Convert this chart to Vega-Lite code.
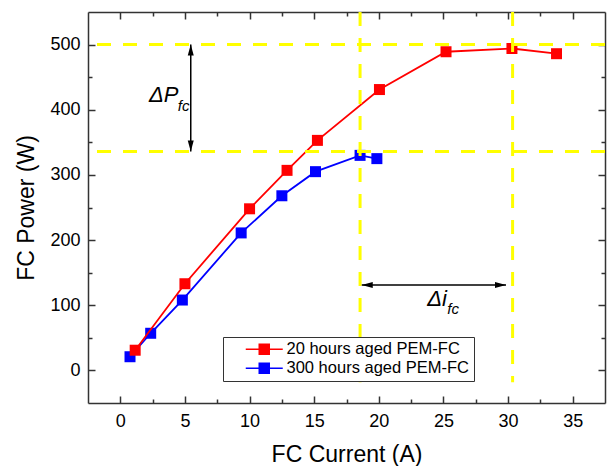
{
  "$schema": "https://vega.github.io/schema/vega-lite/v6.json",
  "width": 517,
  "height": 391,
  "autosize": {"type": "none"},
  "padding": {"left": 88, "top": 12, "right": 4, "bottom": 63},
  "background": "white",
  "config": {
    "view": {"stroke": null},
    "font": "Liberation Sans",
    "axis": {
      "grid": false,
      "domainColor": "#333333",
      "domainWidth": 1.5,
      "tickColor": "#333333",
      "tickWidth": 1.5,
      "labelFont": "Liberation Sans",
      "labelFontSize": 18,
      "labelColor": "#000000",
      "titleFont": "Liberation Sans",
      "titleFontSize": 23,
      "titleFontWeight": "normal",
      "titleColor": "#000000",
      "labelOverlap": false
    },
    "legend": {
      "orient": "none",
      "legendX": 135,
      "legendY": 325,
      "title": null,
      "padding": 4,
      "strokeColor": "#333333",
      "fillColor": "white",
      "labelFont": "Liberation Sans",
      "labelFontSize": 16.5,
      "labelColor": "#000000",
      "labelLimit": 400,
      "symbolType": "M-3.7,0H3.7M-1,-1H1V1H-1Z",
      "symbolSize": 100,
      "symbolStrokeWidth": 1.5,
      "symbolOffset": 29,
      "labelOffset": 14,
      "rowPadding": 2
    }
  },
  "datasets": {
    "series": [
      {"s": "20 hours aged PEM-FC", "x": 1.15, "y": 31},
      {"s": "20 hours aged PEM-FC", "x": 5.0, "y": 133},
      {"s": "20 hours aged PEM-FC", "x": 10.0, "y": 248},
      {"s": "20 hours aged PEM-FC", "x": 12.9, "y": 307},
      {"s": "20 hours aged PEM-FC", "x": 15.25, "y": 353},
      {"s": "20 hours aged PEM-FC", "x": 20.05, "y": 431},
      {"s": "20 hours aged PEM-FC", "x": 25.2, "y": 489},
      {"s": "20 hours aged PEM-FC", "x": 30.3, "y": 494},
      {"s": "20 hours aged PEM-FC", "x": 33.75, "y": 486},
      {"s": "300 hours aged PEM-FC", "x": 0.75, "y": 21},
      {"s": "300 hours aged PEM-FC", "x": 2.35, "y": 57},
      {"s": "300 hours aged PEM-FC", "x": 4.8, "y": 108},
      {"s": "300 hours aged PEM-FC", "x": 9.35, "y": 211},
      {"s": "300 hours aged PEM-FC", "x": 12.5, "y": 268},
      {"s": "300 hours aged PEM-FC", "x": 15.1, "y": 305},
      {"s": "300 hours aged PEM-FC", "x": 18.55, "y": 330},
      {"s": "300 hours aged PEM-FC", "x": 19.85, "y": 325}
    ],
    "hlines": [{"y": 500}, {"y": 336}],
    "vlines": [{"x": 18.55}, {"x": 30.35}],
    "arrows": [
      {"x": 5.45, "y": 336, "x2": 5.45, "y2": 500},
      {"x": 18.68, "y": 131, "x2": 29.84, "y2": 131}
    ],
    "heads": [
      {"x": 5.45, "y": 500, "dir": "up"},
      {"x": 5.45, "y": 336, "dir": "down"},
      {"x": 18.68, "y": 131, "dir": "left"},
      {"x": 29.84, "y": 131, "dir": "right"}
    ],
    "mainText": [
      {"x": 3.35, "y": 422, "t": "ΔP"},
      {"x": 24.5, "y": 110, "t": "Δi"}
    ],
    "subText": [
      {"x": 4.9, "y": 405, "t": "fc"},
      {"x": 25.75, "y": 95, "t": "fc"}
    ]
  },
  "resolve": {"axis": {"x": "independent", "y": "independent"}},
  "layer": [
    {
      "data": {"name": "series"},
      "transform": [{"filter": "datum.s === '300 hours aged PEM-FC'"}],
      "mark": {"type": "line", "strokeWidth": 1.8},
      "encoding": {
        "x": {"field": "x", "type": "quantitative", "scale": {"domain": [-2.5, 37.5], "nice": false, "zero": false},
          "axis": {"orient": "bottom", "values": [0, 2.5, 5, 7.5, 10, 12.5, 15, 17.5, 20, 22.5, 25, 27.5, 30, 32.5, 35],
            "tickSize": {"condition": {"test": "datum.value % 5 === 0", "value": -7}, "value": -4},
            "labelExpr": "datum.value % 5 === 0 ? datum.label : ''", "labelPadding": 16,
            "title": "FC Current (A)", "titlePadding": 10}},
        "y": {"field": "y", "type": "quantitative", "scale": {"domain": [-50, 550], "nice": false, "zero": false},
          "axis": {"orient": "left", "values": [0, 50, 100, 150, 200, 250, 300, 350, 400, 450, 500],
            "tickSize": {"condition": {"test": "datum.value % 100 === 0", "value": -7}, "value": -4},
            "labelExpr": "datum.value % 100 === 0 ? datum.label : ''", "labelPadding": 15,
            "title": "FC Power (W)", "titlePadding": 11}},
        "color": {"field": "s", "type": "nominal",
          "scale": {"domain": ["20 hours aged PEM-FC", "300 hours aged PEM-FC"], "range": ["#ff0000", "#0000ff"]},
          "legend": {"encode": {"symbols": {"update": {"fill": {"scale": "color", "field": "value"}, "stroke": {"scale": "color", "field": "value"}}}}}}
      }
    },
    {
      "data": {"name": "series"},
      "transform": [{"filter": "datum.s === '300 hours aged PEM-FC'"}],
      "mark": {"type": "point", "shape": "square", "filled": true, "size": 121, "opacity": 1},
      "encoding": {
        "x": {"field": "x", "type": "quantitative", "scale": {"domain": [-2.5, 37.5], "nice": false, "zero": false}, "axis": null},
        "y": {"field": "y", "type": "quantitative", "scale": {"domain": [-50, 550], "nice": false, "zero": false}, "axis": null},
        "color": {"field": "s", "type": "nominal", "scale": {"domain": ["20 hours aged PEM-FC", "300 hours aged PEM-FC"], "range": ["#ff0000", "#0000ff"]}}
      }
    },
    {
      "data": {"name": "series"},
      "transform": [{"filter": "datum.s === '20 hours aged PEM-FC'"}],
      "mark": {"type": "line", "strokeWidth": 1.8},
      "encoding": {
        "x": {"field": "x", "type": "quantitative", "scale": {"domain": [-2.5, 37.5], "nice": false, "zero": false}, "axis": null},
        "y": {"field": "y", "type": "quantitative", "scale": {"domain": [-50, 550], "nice": false, "zero": false}, "axis": null},
        "color": {"field": "s", "type": "nominal", "scale": {"domain": ["20 hours aged PEM-FC", "300 hours aged PEM-FC"], "range": ["#ff0000", "#0000ff"]}}
      }
    },
    {
      "data": {"name": "series"},
      "transform": [{"filter": "datum.s === '20 hours aged PEM-FC'"}],
      "mark": {"type": "point", "shape": "square", "filled": true, "size": 121, "opacity": 1},
      "encoding": {
        "x": {"field": "x", "type": "quantitative", "scale": {"domain": [-2.5, 37.5], "nice": false, "zero": false},
          "axis": {"orient": "top", "values": [0, 2.5, 5, 7.5, 10, 12.5, 15, 17.5, 20, 22.5, 25, 27.5, 30, 32.5, 35],
            "tickSize": {"condition": {"test": "datum.value % 5 === 0", "value": -7}, "value": -4},
            "labels": false, "title": null}},
        "y": {"field": "y", "type": "quantitative", "scale": {"domain": [-50, 550], "nice": false, "zero": false},
          "axis": {"orient": "right", "values": [0, 50, 100, 150, 200, 250, 300, 350, 400, 450, 500],
            "tickSize": {"condition": {"test": "datum.value % 100 === 0", "value": -7}, "value": -4},
            "labels": false, "title": null}},
        "color": {"field": "s", "type": "nominal", "scale": {"domain": ["20 hours aged PEM-FC", "300 hours aged PEM-FC"], "range": ["#ff0000", "#0000ff"]}}
      }
    },
    {
      "data": {"name": "hlines"},
      "mark": {"type": "rule", "color": "#ffff00", "strokeWidth": 3, "strokeDash": [14, 12]},
      "encoding": {
        "y": {"field": "y", "type": "quantitative", "scale": {"domain": [-50, 550], "nice": false, "zero": false}, "axis": null}
      }
    },
    {
      "data": {"name": "vlines"},
      "mark": {"type": "rule", "color": "#ffff00", "strokeWidth": 3, "strokeDash": [14, 12]},
      "encoding": {
        "x": {"field": "x", "type": "quantitative", "scale": {"domain": [-2.5, 37.5], "nice": false, "zero": false}, "axis": null},
        "y": {"datum": 550, "type": "quantitative", "scale": {"domain": [-50, 550], "nice": false, "zero": false}, "axis": null},
        "y2": {"datum": -18}
      }
    },
    {
      "data": {"name": "arrows"},
      "mark": {"type": "rule", "color": "#000000", "strokeWidth": 1.5},
      "encoding": {
        "x": {"field": "x", "type": "quantitative", "scale": {"domain": [-2.5, 37.5], "nice": false, "zero": false}, "axis": null},
        "x2": {"field": "x2"},
        "y": {"field": "y", "type": "quantitative", "scale": {"domain": [-50, 550], "nice": false, "zero": false}, "axis": null},
        "y2": {"field": "y2"}
      }
    },
    {
      "data": {"name": "heads"},
      "mark": {"type": "point", "filled": true, "size": 100, "color": "#000000", "opacity": 1},
      "encoding": {
        "x": {"field": "x", "type": "quantitative", "scale": {"domain": [-2.5, 37.5], "nice": false, "zero": false}, "axis": null},
        "y": {"field": "y", "type": "quantitative", "scale": {"domain": [-50, 550], "nice": false, "zero": false}, "axis": null},
        "shape": {"field": "dir", "type": "nominal", "legend": null,
          "scale": {"domain": ["up", "down", "left", "right"],
            "range": ["M0,0L-0.6,2.2L0.6,2.2Z", "M0,0L-0.6,-2.2L0.6,-2.2Z", "M0,0L2.2,-0.6L2.2,0.6Z", "M0,0L-2.2,-0.6L-2.2,0.6Z"]}}
      }
    },
    {
      "data": {"name": "mainText"},
      "mark": {"type": "text", "font": "Liberation Sans", "fontSize": 22, "fontStyle": "italic", "align": "center", "baseline": "middle", "color": "#000000"},
      "encoding": {
        "x": {"field": "x", "type": "quantitative", "scale": {"domain": [-2.5, 37.5], "nice": false, "zero": false}, "axis": null},
        "y": {"field": "y", "type": "quantitative", "scale": {"domain": [-50, 550], "nice": false, "zero": false}, "axis": null},
        "text": {"field": "t"}
      }
    },
    {
      "data": {"name": "subText"},
      "mark": {"type": "text", "font": "Liberation Sans", "fontSize": 15, "fontStyle": "italic", "align": "center", "baseline": "middle", "color": "#000000"},
      "encoding": {
        "x": {"field": "x", "type": "quantitative", "scale": {"domain": [-2.5, 37.5], "nice": false, "zero": false}, "axis": null},
        "y": {"field": "y", "type": "quantitative", "scale": {"domain": [-50, 550], "nice": false, "zero": false}, "axis": null},
        "text": {"field": "t"}
      }
    }
  ]
}
